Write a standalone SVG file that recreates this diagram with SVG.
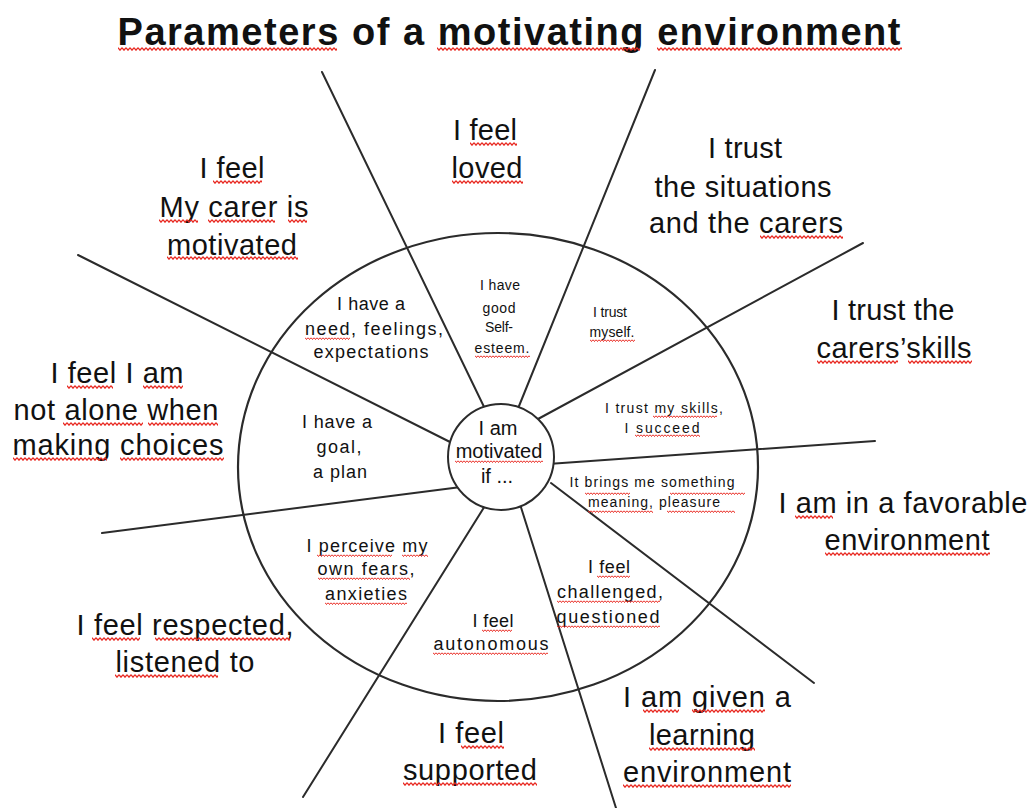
<svg xmlns="http://www.w3.org/2000/svg" width="1031" height="808" viewBox="0 0 1031 808">
<style>
  text { font-family: "Liberation Sans", Arial, sans-serif; fill: #111; text-anchor: middle; }
  .title { font-size: 38px; font-weight: bold; }
  .big { font-size: 29px; }
  .mid { font-size: 18px; }
  .small { font-size: 14px; }
  .ctr { font-size: 20px; }
  .ln { stroke: #2b2b2b; stroke-width: 2; fill: none; stroke-linecap: round; }
  .ring { stroke: #2b2b2b; stroke-width: 2.2; fill: none; }
  .sq { fill: url(#sq); }
  .sqs { fill: url(#sqs); }
</style>
<defs>
  <pattern id="sq" width="4" height="4" patternUnits="userSpaceOnUse">
    <path d="M0,0.7 L2,3.2 L4,0.7" fill="none" stroke="#e8261e" stroke-width="1.2"/>
  </pattern>
  <pattern id="sqs" width="3" height="3" patternUnits="userSpaceOnUse">
    <path d="M0,0.6 L1.5,2.5 L3,0.6" fill="none" stroke="#e8261e" stroke-width="1"/>
  </pattern>
</defs>
<rect width="1031" height="808" fill="#fff"/>

<g id="title">
  <text class="title" x="509" y="45" textLength="783">Parameters of a motivating environment</text>
  <svg x="118" y="47" width="219" height="4"><rect class="sq" width="100%" height="4"/></svg>
  <svg x="437" y="47" width="203" height="4"><rect class="sq" width="100%" height="4"/></svg>
  <svg x="657" y="47" width="245" height="4"><rect class="sq" width="100%" height="4"/></svg>
</g>

<g id="outer-ring">
  <ellipse class="ring" cx="498" cy="467" rx="260" ry="234"/>
</g>

<g id="connectors">
  <line class="ln" x1="322" y1="72" x2="487" y2="413"/>
  <line class="ln" x1="655" y1="70" x2="517" y2="411"/>
  <line class="ln" x1="863" y1="243" x2="538" y2="419"/>
  <line class="ln" x1="875" y1="441" x2="548" y2="464"/>
  <line class="ln" x1="814" y1="683" x2="551" y2="483"/>
  <line class="ln" x1="616" y1="808" x2="519" y2="501"/>
  <line class="ln" x1="303" y1="797" x2="488" y2="501"/>
  <line class="ln" x1="102" y1="533" x2="461" y2="487"/>
  <line class="ln" x1="78" y1="255" x2="454" y2="444"/>
</g>

<g id="center">
  <circle cx="501" cy="457" r="53" fill="#fff" stroke="#2b2b2b" stroke-width="2"/>
  <text class="ctr" x="498" y="435">I am</text>
  <text class="ctr" x="499" y="458">motivated</text>
  <text class="ctr" x="497" y="483">if ...</text>
  <svg x="455" y="460" width="88" height="3"><rect class="sqs" width="100%" height="3"/></svg>
</g>

<g id="w-needs">
  <text class="mid" x="371" y="310" textLength="68">I have a</text>
  <text class="mid" x="374" y="335" textLength="138">need, feelings,</text>
  <text class="mid" x="371" y="358" textLength="115">expectations</text>
  <svg x="305" y="337" width="45" height="3"><rect class="sqs" width="100%" height="3"/></svg>
</g>

<g id="w-esteem">
  <text class="small" x="500" y="290" textLength="40">I have</text>
  <text class="small" x="499" y="313" textLength="33">good</text>
  <text class="small" x="499" y="332" textLength="28">Self-</text>
  <text class="small" x="502" y="353" textLength="55">esteem.</text>
  <svg x="475" y="355" width="55" height="3"><rect class="sqs" width="100%" height="3"/></svg>
</g>

<g id="w-myself">
  <text class="small" x="610" y="317" textLength="34">I trust</text>
  <text class="small" x="612" y="337" textLength="45">myself.</text>
  <svg x="590" y="339" width="45" height="3"><rect class="sqs" width="100%" height="3"/></svg>
</g>

<g id="w-skills">
  <text class="small" x="664" y="413" textLength="118">I trust  my  skills,</text>
  <text class="small" x="662" y="433" textLength="75">I succeed</text>
  <svg x="653" y="415" width="64" height="3"><rect class="sqs" width="100%" height="3"/></svg>
  <svg x="635" y="434" width="65" height="3"><rect class="sqs" width="100%" height="3"/></svg>
</g>

<g id="w-meaning">
  <text class="small" x="652" y="487" textLength="165">It brings  me  something</text>
  <text class="small" x="654" y="507" textLength="132">meaning, pleasure</text>
  <svg x="585" y="492" width="45" height="3"><rect class="sqs" width="100%" height="3"/></svg>
  <svg x="670" y="492" width="75" height="3"><rect class="sqs" width="100%" height="3"/></svg>
  <svg x="588" y="510" width="65" height="3"><rect class="sqs" width="100%" height="3"/></svg>
  <svg x="667" y="510" width="68" height="3"><rect class="sqs" width="100%" height="3"/></svg>
</g>

<g id="w-challenged">
  <text class="mid" x="609" y="573" textLength="42">I feel</text>
  <text class="mid" x="610" y="598" textLength="106">challenged,</text>
  <text class="mid" x="608" y="623" textLength="103">questioned</text>
  <svg x="597" y="575" width="33" height="3"><rect class="sqs" width="100%" height="3"/></svg>
  <svg x="557" y="600" width="103" height="3"><rect class="sqs" width="100%" height="3"/></svg>
  <svg x="557" y="625" width="103" height="3"><rect class="sqs" width="100%" height="3"/></svg>
</g>

<g id="w-autonomous">
  <text class="mid" x="493" y="627" textLength="41">I feel</text>
  <text class="mid" x="491" y="650" textLength="115">autonomous</text>
  <svg x="482" y="629" width="30" height="3"><rect class="sqs" width="100%" height="3"/></svg>
  <svg x="433" y="652" width="115" height="3"><rect class="sqs" width="100%" height="3"/></svg>
</g>

<g id="w-fears">
  <text class="mid" x="367" y="552" textLength="121">I perceive my</text>
  <text class="mid" x="366" y="575" textLength="97">own fears,</text>
  <text class="mid" x="366" y="600" textLength="82">anxieties</text>
  <svg x="317" y="554" width="75" height="3"><rect class="sqs" width="100%" height="3"/></svg>
  <svg x="402" y="554" width="26" height="3"><rect class="sqs" width="100%" height="3"/></svg>
  <svg x="318" y="577" width="92" height="3"><rect class="sqs" width="100%" height="3"/></svg>
  <svg x="325" y="602" width="82" height="3"><rect class="sqs" width="100%" height="3"/></svg>
</g>

<g id="w-goal">
  <text class="mid" x="337" y="428" textLength="70">I have a</text>
  <text class="mid" x="339" y="453" textLength="45">goal,</text>
  <text class="mid" x="340" y="478" textLength="54">a plan</text>
</g>

<g id="o-carer">
  <text class="big" x="232" y="178" textLength="65">I feel</text>
  <text class="big" x="234" y="217" textLength="149">My carer is</text>
  <text class="big" x="232" y="255" textLength="130">motivated</text>
  <svg x="213" y="180" width="49" height="4"><rect class="sq" width="100%" height="4"/></svg>
  <svg x="159" y="219" width="39" height="4"><rect class="sq" width="100%" height="4"/></svg>
  <svg x="208" y="219" width="67" height="4"><rect class="sq" width="100%" height="4"/></svg>
  <svg x="288" y="219" width="19" height="4"><rect class="sq" width="100%" height="4"/></svg>
  <svg x="167" y="256" width="131" height="4"><rect class="sq" width="100%" height="4"/></svg>
</g>

<g id="o-loved">
  <text class="big" x="485" y="140" textLength="64">I feel</text>
  <text class="big" x="487" y="178" textLength="71">loved</text>
  <svg x="470" y="142" width="47" height="4"><rect class="sq" width="100%" height="4"/></svg>
  <svg x="452" y="180" width="71" height="4"><rect class="sq" width="100%" height="4"/></svg>
</g>

<g id="o-situations">
  <text class="big" x="745" y="158" textLength="74">I trust</text>
  <text class="big" x="743" y="197" textLength="177">the situations</text>
  <text class="big" x="746" y="233" textLength="194">and the carers</text>
  <svg x="760" y="235" width="83" height="4"><rect class="sq" width="100%" height="4"/></svg>
</g>

<g id="o-skills">
  <text class="big" x="893" y="320" textLength="123">I trust the</text>
  <text class="big" x="894" y="358" textLength="155">carers’skills</text>
  <svg x="817" y="360" width="81" height="4"><rect class="sq" width="100%" height="4"/></svg>
  <svg x="908" y="360" width="64" height="4"><rect class="sq" width="100%" height="4"/></svg>
</g>

<g id="o-favorable">
  <text class="big" x="903" y="513" textLength="249">I am in a favorable</text>
  <text class="big" x="907" y="550" textLength="165">environment</text>
  <svg x="795" y="515" width="38" height="4"><rect class="sq" width="100%" height="4"/></svg>
  <svg x="825" y="552" width="165" height="4"><rect class="sq" width="100%" height="4"/></svg>
</g>

<g id="o-learning">
  <text class="big" x="707" y="707" textLength="168">I am given a</text>
  <text class="big" x="702" y="745" textLength="106">learning</text>
  <text class="big" x="707" y="782" textLength="168">environment</text>
  <svg x="643" y="709" width="36" height="4"><rect class="sq" width="100%" height="4"/></svg>
  <svg x="692" y="709" width="73" height="4"><rect class="sq" width="100%" height="4"/></svg>
  <svg x="649" y="747" width="106" height="4"><rect class="sq" width="100%" height="4"/></svg>
  <svg x="623" y="784" width="168" height="4"><rect class="sq" width="100%" height="4"/></svg>
</g>

<g id="o-supported">
  <text class="big" x="471" y="743" textLength="66">I feel</text>
  <text class="big" x="470" y="780" textLength="134">supported</text>
  <svg x="461" y="745" width="43" height="4"><rect class="sq" width="100%" height="4"/></svg>
  <svg x="403" y="782" width="134" height="4"><rect class="sq" width="100%" height="4"/></svg>
</g>

<g id="o-respected">
  <text class="big" x="185" y="635" textLength="217">I feel respected,</text>
  <text class="big" x="185" y="672" textLength="139">listened to</text>
  <svg x="92" y="637" width="48" height="4"><rect class="sq" width="100%" height="4"/></svg>
  <svg x="155" y="637" width="135" height="4"><rect class="sq" width="100%" height="4"/></svg>
  <svg x="115" y="674" width="103" height="4"><rect class="sq" width="100%" height="4"/></svg>
</g>

<g id="o-alone">
  <text class="big" x="117" y="383" textLength="133">I feel I am</text>
  <text class="big" x="116" y="420" textLength="205">not alone when</text>
  <text class="big" x="118" y="455" textLength="211">making choices</text>
  <svg x="67" y="385" width="46" height="4"><rect class="sq" width="100%" height="4"/></svg>
  <svg x="143" y="385" width="40" height="4"><rect class="sq" width="100%" height="4"/></svg>
  <svg x="63" y="422" width="80" height="4"><rect class="sq" width="100%" height="4"/></svg>
  <svg x="148" y="422" width="70" height="4"><rect class="sq" width="100%" height="4"/></svg>
  <svg x="13" y="457" width="94" height="4"><rect class="sq" width="100%" height="4"/></svg>
  <svg x="120" y="457" width="104" height="4"><rect class="sq" width="100%" height="4"/></svg>
</g>
</svg>
